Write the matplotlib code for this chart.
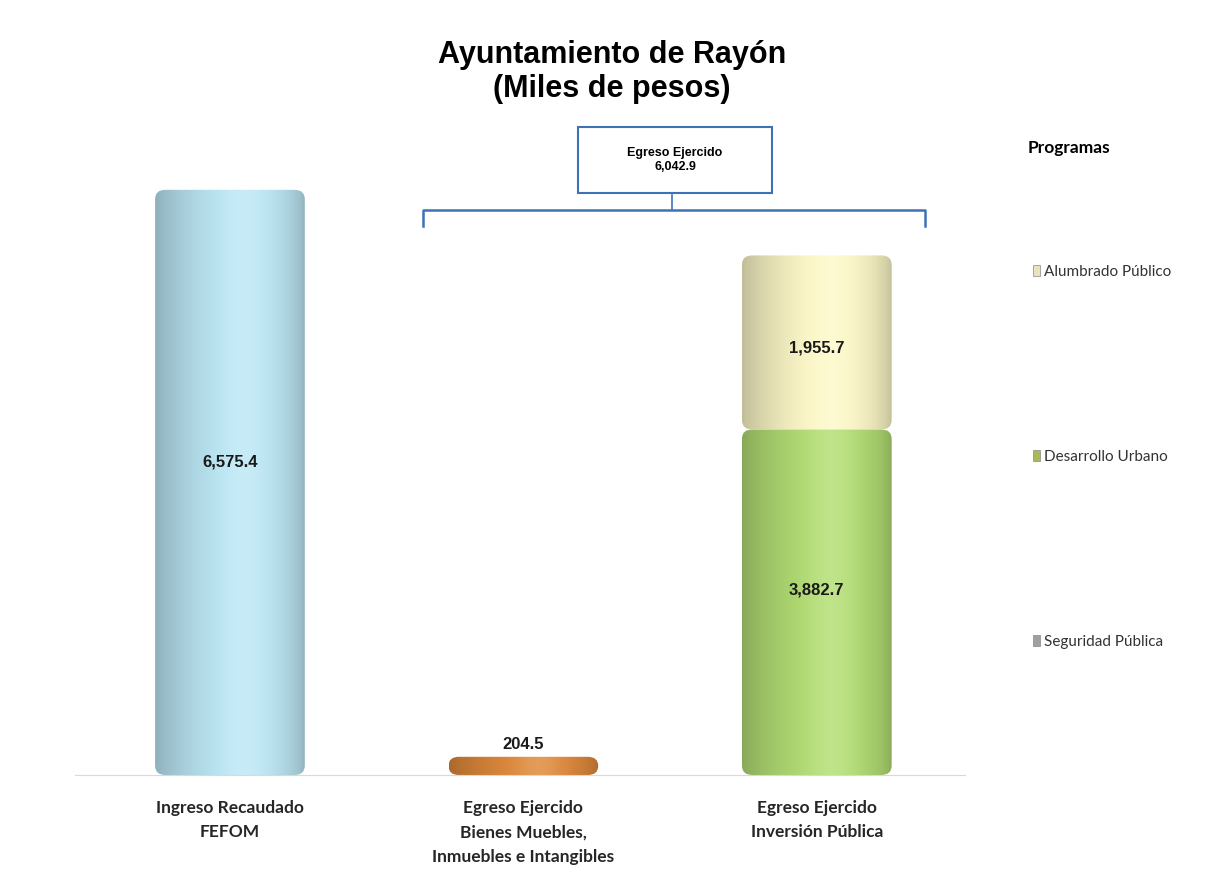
import numpy as np
import matplotlib
matplotlib.use("Agg")
import matplotlib.pyplot as plt
from matplotlib.patches import FancyBboxPatch, Patch, Rectangle
from matplotlib.lines import Line2D
from matplotlib.colors import to_rgb

# data (miles de pesos)
categories = ["Ingreso Recaudado\nFEFOM",
              "Egreso Ejercido\nBienes Muebles,\nInmuebles e Intangibles",
              "Egreso Ejercido\nInversión Pública"]
ingreso = [6575.4, 0.0, 0.0]
bienes = [0.0, 204.5, 0.0]
programas = ["Seguridad Pública", "Desarrollo Urbano", "Alumbrado Público"]
inversion = [0.0, 3882.7, 1955.7]   # stacked on the third bar, bottom to top
egreso_total = 6042.9

col_ingreso = "#b2dbe8"
col_bienes = "#d38238"
col_prog = ["#b8b8b8", "#a9d26e", "#efebbd"]
legend_cols = ["#a0a0a0", "#a8b85a", "#e8e2c0"]

W, H = 1206, 896
fig = plt.figure(figsize=(W / 100, H / 100), dpi=100)
ax = fig.add_axes([75 / W, 1 - 775 / H, 890 / W, 655 / H])

x = np.arange(len(categories))
bw = 0.51
r = 0.035


def cylinder(bar, color):
    # swap the flat bar for a shaded, rounded one
    x0, y0 = bar.get_x(), bar.get_y()
    w, h = bar.get_width(), bar.get_height()
    if h <= 0:
        return
    bar.set_visible(False)
    if h > 2 * r * 3000:
        fb = FancyBboxPatch((x0 + r, y0 + r * 3000), w - 2 * r, h - 2 * r * 3000,
                            boxstyle="round,pad=%f,rounding_size=%f" % (r, r),
                            mutation_aspect=3000, facecolor="none", edgecolor="none")
    else:
        fb = FancyBboxPatch((x0 + r, y0 + h / 2), w - 2 * r, 0.0,
                            boxstyle="round,pad=%f,rounding_size=%f" % (r, r),
                            mutation_aspect=h / (2 * r), facecolor="none", edgecolor="none")
    ax.add_patch(fb)
    t = np.linspace(0, 1, 200)
    f = 0.8 + 0.26 * np.sin(np.pi * t ** 1.3) ** 0.6
    base = np.array(to_rgb(color))
    rgb = np.clip(base[None, :] * f[:, None], 0, 1)
    hl = np.exp(-((t - 0.6) / 0.15) ** 2)[:, None] * 0.15
    rgb = rgb * (1 - hl) + hl
    img = np.tile(rgb[None, :, :], (2, 1, 1))
    im = ax.imshow(img, extent=[x0, x0 + w, y0, y0 + h], aspect="auto",
                   interpolation="bicubic", zorder=2)
    im.set_clip_path(fb)


b1 = ax.bar(x, ingreso, width=bw, color=col_ingreso)
b2 = ax.bar(x, bienes, width=bw, color=col_bienes)
for b in b1:
    cylinder(b, col_ingreso)
for b in b2:
    cylinder(b, col_bienes)

bottom = 0.0
seg_bars = []
for name, v, c in zip(programas, inversion, col_prog):
    bb = ax.bar([x[2]], [v], width=bw, bottom=bottom, color=c)
    cylinder(bb[0], c)
    seg_bars.append((bb[0], v))
    bottom += v

ax.set_aspect("auto")
ax.set_xlim(-0.528, 2.505)
ax.set_ylim(0, 7360)

lab_font = dict(family="Liberation Sans", fontweight="bold", fontsize=12, color="#1a1a1a")
ax.text(x[0], ingreso[0] / 2 + 230, "{:,.1f}".format(ingreso[0]), ha="center", va="center", **lab_font)
ax.text(x[1], bienes[1] + 55, "{:,.1f}".format(bienes[1]), ha="center", va="bottom", **lab_font)
seg_off = [0, 138, -62]
for (bb, v), off in zip(seg_bars, seg_off):
    if v > 0:
        ax.text(bb.get_x() + bb.get_width() / 2, bb.get_y() + v / 2 + off,
                "{:,.1f}".format(v), ha="center", va="center", **lab_font)

for s in ["top", "right", "left"]:
    ax.spines[s].set_visible(False)
ax.spines["bottom"].set_color("#d9d9d9")
ax.set_yticks([])
ax.set_xticks(x)
ax.set_xticklabels(categories, family="Lato", fontweight="bold",
                   fontsize=12.5, color="#262626", linespacing=1.65)
ax.tick_params(axis="x", length=0, pad=18)

# title
fig.text(612 / W, 1 - 72 / H, "Ayuntamiento de Rayón\n(Miles de pesos)", ha="center", va="center",
         family="Liberation Sans", fontweight="bold", fontsize=22, linespacing=1.2)

# bracket + total box
blue = "#3f72b5"
def fx(px):
    return px / W
def fy(py):
    return 1 - py / H
fig.add_artist(Line2D([fx(423), fx(423), fx(925), fx(925)], [fy(226), fy(210), fy(210), fy(226)],
                      color=blue, lw=1.8))
fig.add_artist(Line2D([fx(672), fx(672)], [fy(210), fy(195)], color=blue, lw=1.2))
fig.add_artist(Rectangle((fx(578), fy(193)), fx(772) - fx(578), fy(127) - fy(193),
                         transform=fig.transFigure, facecolor="white", edgecolor=blue, lw=1.5))
fig.text(fx(675), fy(160), "Egreso Ejercido\n{:,.1f}".format(egreso_total), ha="center", va="center",
         family="Liberation Sans", fontweight="bold", fontsize=9, linespacing=1.3)

# legend
fig.text(fx(1028), fy(148), "Programas", ha="left", va="center", family="Lato",
         fontweight="bold", fontsize=12.5)
handles = [Patch(facecolor=c, edgecolor="#888888", lw=0.5) for c in legend_cols[::-1]]
leg = fig.legend(handles, programas[::-1], loc="upper left", bbox_to_anchor=(fx(1019), fy(251)),
                 frameon=False, labelspacing=11.2, handlelength=0.5, handleheight=0.7,
                 handletextpad=0.25, prop=dict(family="Lato", size=11))
for t in leg.get_texts():
    t.set_color("#333333")

fig.savefig("out.png", dpi=100)
